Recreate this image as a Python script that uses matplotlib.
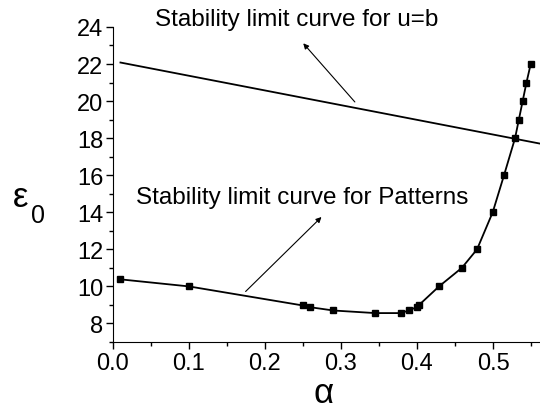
import numpy as np
import matplotlib.pyplot as plt
from matplotlib.ticker import MultipleLocator

plt.rcParams['font.family'] = ['Liberation Sans', 'DejaVu Sans']

# stability limit curve for patterns
alpha_pat = [0.010, 0.100, 0.250, 0.259, 0.290, 0.345, 0.379, 0.389, 0.3996, 0.402,
             0.429, 0.459, 0.479, 0.4996, 0.5145, 0.529, 0.534, 0.539, 0.544, 0.5496]
eps_pat = [10.38, 10.0, 8.97, 8.88, 8.70, 8.56, 8.56, 8.70, 8.88, 8.97,
           10.0, 11.0, 12.0, 14.0, 16.0, 18.0, 19.0, 20.0, 21.0, 22.0]

# stability limit curve for u=b (straight line)
alpha_ub = [0.01, 0.57]
eps_ub = [22.08, 17.64]

fig = plt.figure(figsize=(5.4, 4.14), dpi=100)
ax = fig.add_axes([0.209, 0.1715, 0.791, 0.761])

ax.plot(alpha_ub, eps_ub, color='black', lw=1.3)
ax.plot(alpha_pat, eps_pat, color='black', lw=1.3, marker='s', markersize=5)

ax.set_xlim(0, 0.5618)
ax.set_ylim(7, 24)
ax.xaxis.set_minor_locator(MultipleLocator(0.05))
ax.yaxis.set_minor_locator(MultipleLocator(1))
ax.set_xticks([0.0, 0.1, 0.2, 0.3, 0.4, 0.5])
ax.set_xticklabels(['0.0', '0.1', '0.2', '0.3', '0.4', '0.5'])
ax.set_yticks(range(8, 25, 2))

ax.spines['top'].set_visible(False)
ax.spines['right'].set_visible(False)
ax.tick_params(which='major', direction='out', length=5, width=1, labelsize=17, pad=2)
ax.tick_params(which='minor', direction='out', length=3, width=1)

# axis labels placed by hand (alpha below, epsilon_0 to the left)
fig.text(324 / 540, 1 - 394 / 414, 'α', fontsize=25, ha='center', va='center')
fig.text(13 / 540, 1 - 198 / 414, 'ε', fontsize=25, ha='left', va='center')
fig.text(31 / 540, 1 - 216 / 414, '0', fontsize=18, ha='left', va='center')

ax.annotate('', xy=(0.248, 23.23), xytext=(0.3207, 19.84),
            arrowprops=dict(arrowstyle='-|>', color='black', lw=0.8, mutation_scale=8))
ax.text(0.242, 24.45, 'Stability limit curve for u=b', fontsize=17.5,
        ha='center', va='center', clip_on=False)

ax.annotate('', xy=(0.277, 13.85), xytext=(0.172, 9.62),
            arrowprops=dict(arrowstyle='-|>', color='black', lw=0.8, mutation_scale=8))
ax.text(0.249, 14.81, 'Stability limit curve for Patterns', fontsize=17.5,
        ha='center', va='center')

fig.savefig('out.png', dpi=100)
